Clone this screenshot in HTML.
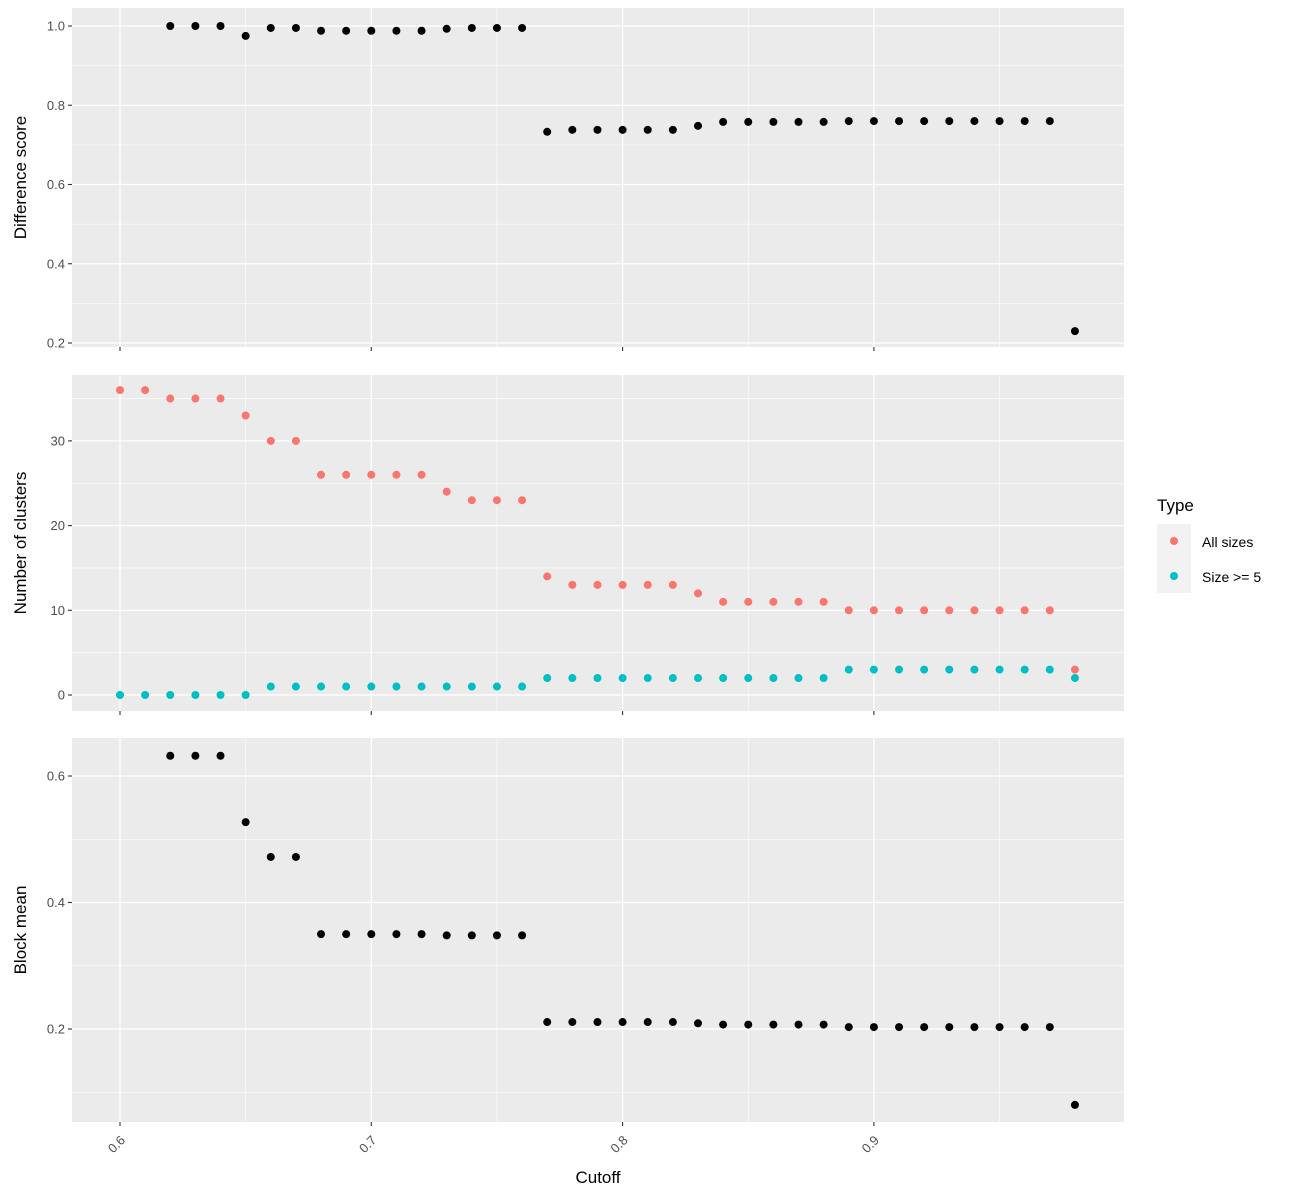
<!DOCTYPE html>
<html><head><style>body{margin:0;background:#fff}svg{display:block}</style></head>
<body>
<svg id="s" width="1300" height="1200" xmlns="http://www.w3.org/2000/svg" font-family="Liberation Sans, sans-serif"></svg>
<script>
const s=document.getElementById('s');let h='';
const L=72,R=1124;
const X=v=>120+(v-0.6)*2513;
function panel(top,bot,yf,majors,minors,label,lblfmt){
 h+=`<rect x="${L}" y="${top}" width="${R-L}" height="${bot-top}" fill="#ebebeb"/>`;
 for(const m of minors)h+=`<line x1="${L}" x2="${R}" y1="${yf(m)}" y2="${yf(m)}" stroke="#fff" stroke-width="0.6"/>`;
 for(const m of [0.65,0.75,0.85,0.95])h+=`<line x1="${X(m)}" x2="${X(m)}" y1="${top}" y2="${bot}" stroke="#fff" stroke-width="0.6"/>`;
 for(const m of majors){const y=yf(m);h+=`<line x1="${L}" x2="${R}" y1="${y}" y2="${y}" stroke="#fff" stroke-width="1.3"/><line x1="${L-4}" x2="${L}" y1="${y}" y2="${y}" stroke="#333" stroke-width="1.1"/><text x="${L-7}" y="${y+4.5}" font-size="13" fill="#4d4d4d" text-anchor="end">${lblfmt(m)}</text>`;}
 for(const m of [0.6,0.7,0.8,0.9]){const x=X(m);h+=`<line x1="${x}" x2="${x}" y1="${top}" y2="${bot}" stroke="#fff" stroke-width="1.3"/><line x1="${x}" x2="${x}" y1="${bot}" y2="${bot+4}" stroke="#333" stroke-width="1.1"/>`;}
 const cy=(top+bot)/2;h+=`<text transform="translate(26,${cy}) rotate(-90)" font-size="17" text-anchor="middle">${label}</text>`;
}
function pts(vals,yf,col,start){vals.forEach((v,i)=>{h+=`<circle cx="${X(start+i*0.01)}" cy="${yf(v)}" r="4" fill="${col}"/>`;});}
const y1=v=>26+(1-v)*396.25;
panel(8,347,y1,[0.2,0.4,0.6,0.8,1.0],[0.3,0.5,0.7,0.9],'Difference score',m=>m.toFixed(1));
pts([1,1,1,0.975,0.995,0.995,0.988,0.988,0.988,0.988,0.988,0.993,0.995,0.995,0.995,0.733,0.738,0.738,0.738,0.738,0.738,0.748,0.758,0.758,0.758,0.758,0.758,0.76,0.76,0.76,0.76,0.76,0.76,0.76,0.76,0.76,0.23],y1,'#000',0.62);
const y2=v=>695-v*8.47;
panel(375,711,y2,[0,10,20,30],[5,15,25,35],'Number of clusters',m=>m);
pts([36,36,35,35,35,33,30,30,26,26,26,26,26,24,23,23,23,14,13,13,13,13,13,12,11,11,11,11,11,10,10,10,10,10,10,10,10,10,3],y2,'#f8766d',0.6);
pts([0,0,0,0,0,0,1,1,1,1,1,1,1,1,1,1,1,2,2,2,2,2,2,2,2,2,2,2,2,3,3,3,3,3,3,3,3,3,2],y2,'#00bfc4',0.6);
const y3=v=>1029-(v-0.2)*632.5;
panel(738,1122,y3,[0.2,0.4,0.6],[0.1,0.3,0.5],'Block mean',m=>m.toFixed(1));
pts([0.632,0.632,0.632,0.527,0.472,0.472,0.35,0.35,0.35,0.35,0.35,0.348,0.348,0.348,0.348,0.211,0.211,0.211,0.211,0.211,0.211,0.209,0.207,0.207,0.207,0.207,0.207,0.203,0.203,0.203,0.203,0.203,0.203,0.203,0.203,0.203,0.08],y3,'#000',0.62);
for(const m of [0.6,0.7,0.8,0.9]){const x=X(m);h+=`<text transform="translate(${x+6},1141) rotate(-45)" font-size="13" fill="#4d4d4d" text-anchor="end">${m.toFixed(1)}</text>`;}
h+=`<text x="598" y="1183" font-size="17" text-anchor="middle">Cutoff</text>`;
h+=`<text x="1157" y="511" font-size="17">Type</text><rect x="1157" y="524" width="34" height="69" fill="#f2f2f2"/><circle cx="1174" cy="541" r="4" fill="#f8766d"/><circle cx="1174" cy="576" r="4" fill="#00bfc4"/><text x="1202" y="547" font-size="14">All sizes</text><text x="1202" y="582" font-size="14">Size &gt;= 5</text>`;
s.innerHTML=h;
</script>
</body></html>
